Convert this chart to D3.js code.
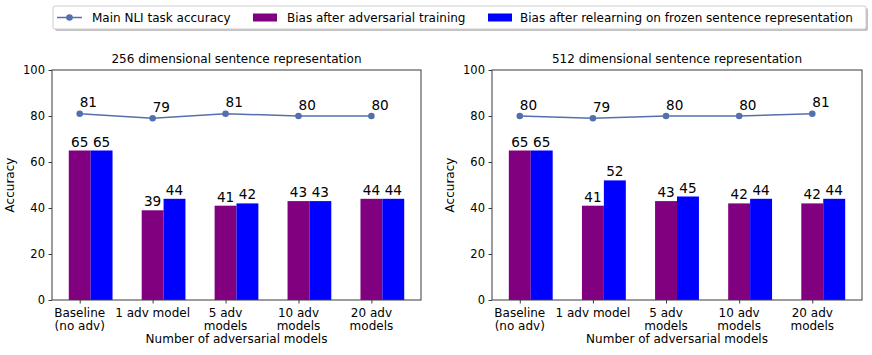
<!DOCTYPE html>
<html>
<head>
<meta charset="utf-8">
<script src="https://cdn.jsdelivr.net/npm/d3@7"></script>
<style>
  body { margin: 0; background: #fff; }
  text { font-family: "DejaVu Sans", sans-serif; fill: #000; }
</style>
</head>
<body>
<div id="chart"></div>
<script>
const categories = [['Baseline', '(no adv)'], ['1 adv model'], ['5 adv', 'models'], ['10 adv', 'models'], ['20 adv', 'models']]
const yTicks = [0, 20, 40, 60, 80, 100]

const titles = ['256 dimensional sentence representation', '512 dimensional sentence representation']
const accuracy256 = [81, 79, 81, 80, 80]
const adversarial256 = [65, 39, 41, 43, 44]
const relearned256 = [65, 44, 42, 43, 44]
const accuracy512 = [80, 79, 80, 80, 81]
const adversarial512 = [65, 41, 43, 42, 42]
const relearned512 = [65, 52, 45, 44, 44]

const legendLabels = ['Main NLI task accuracy', 'Bias after adversarial training', 'Bias after relearning on frozen sentence representation']

const colors = { line: '#5470ac', adv: '#800080', rel: '#0000ff', axis: '#3a3a3a' }

const W = 872, H = 355
const fs = 12, fsTick = 11.5, fsVal = 13.6
const svg = d3.select('#chart').append('svg').attr('width', W).attr('height', H)

const panels = [
    { x0: 52, x1: 421, title: titles[0], acc: accuracy256, adv: adversarial256, rel: relearned256 },
    { x0: 492, x1: 862, title: titles[1], acc: accuracy512, adv: adversarial512, rel: relearned512 }
]
const yTop = 70, yBottom = 300
const barW = 0.3

panels.forEach(p => {
    const x = d3.scaleLinear().domain([-0.38, 4.68]).range([p.x0, p.x1])
    const y = d3.scaleLinear().domain([0, 100]).range([yBottom, yTop])
    const g = svg.append('g')

    // bars
    g.selectAll('rect.adv').data(p.adv).enter().append('rect')
        .attr('x', (d, i) => x(i - barW / 2))
        .attr('y', d => y(d))
        .attr('width', x(barW) - x(0))
        .attr('height', d => y(0) - y(d))
        .attr('fill', colors.adv)
    g.selectAll('rect.rel').data(p.rel).enter().append('rect')
        .attr('x', (d, i) => x(i + barW / 2))
        .attr('y', d => y(d))
        .attr('width', x(barW) - x(0))
        .attr('height', d => y(0) - y(d))
        .attr('fill', colors.rel)

    // bar labels
    g.selectAll('text.advl').data(p.adv).enter().append('text')
        .attr('x', (d, i) => x(i))
        .attr('y', d => y(d) - 4)
        .attr('text-anchor', 'middle')
        .attr('font-size', fsVal)
        .text(d => d)
    g.selectAll('text.rell').data(p.rel).enter().append('text')
        .attr('x', (d, i) => x(i + barW))
        .attr('y', d => y(d) - 4)
        .attr('text-anchor', 'middle')
        .attr('font-size', fsVal)
        .text(d => d)

    // accuracy line
    g.append('path')
        .attr('d', d3.line().x((d, i) => x(i)).y(d => y(d))(p.acc))
        .attr('fill', 'none')
        .attr('stroke', colors.line)
        .attr('stroke-width', 1.5)
    g.selectAll('circle').data(p.acc).enter().append('circle')
        .attr('cx', (d, i) => x(i))
        .attr('cy', d => y(d))
        .attr('r', 3.3)
        .attr('fill', colors.line)
    g.selectAll('text.accl').data(p.acc).enter().append('text')
        .attr('x', (d, i) => x(i))
        .attr('y', d => y(d) - 6.5)
        .attr('font-size', fsVal)
        .text(d => d)

    // frame
    g.append('rect')
        .attr('x', p.x0).attr('y', yTop)
        .attr('width', p.x1 - p.x0).attr('height', yBottom - yTop)
        .attr('fill', 'none').attr('stroke', colors.axis).attr('stroke-width', 1)

    // y axis
    const yAxis = g.append('g').attr('transform', `translate(${p.x0},0)`)
        .call(d3.axisLeft(y).tickValues(yTicks).tickSize(3.5).tickPadding(3.5))
    yAxis.select('.domain').remove()
    yAxis.selectAll('line').attr('stroke', colors.axis)
    yAxis.selectAll('text').attr('font-size', fsTick).attr('font-family', 'DejaVu Sans').attr('fill', '#000')

    // x axis
    const xAxis = g.append('g').attr('transform', `translate(0,${yBottom})`)
        .call(d3.axisBottom(x).tickValues(d3.range(categories.length)).tickSize(3.5).tickFormat(''))
    xAxis.select('.domain').remove()
    xAxis.selectAll('line').attr('stroke', colors.axis)
    categories.forEach((c, i) => {
        const t = g.append('text')
            .attr('x', x(i)).attr('y', 317)
            .attr('text-anchor', 'middle').attr('font-size', fs)
        c.forEach((line, j) => {
            t.append('tspan').attr('x', x(i)).attr('dy', j === 0 ? 0 : 12.5).text(line)
        })
    })

    g.append('text')
        .attr('x', (p.x0 + p.x1) / 2).attr('y', 343)
        .attr('text-anchor', 'middle').attr('font-size', fs)
        .text('Number of adversarial models')

    g.append('text')
        .attr('transform', `translate(${p.x0 - 38},${(yTop + yBottom) / 2}) rotate(-90)`)
        .attr('text-anchor', 'middle').attr('font-size', fs)
        .text('Accuracy')

    g.append('text')
        .attr('x', (p.x0 + p.x1) / 2).attr('y', 63)
        .attr('text-anchor', 'middle').attr('font-size', fs)
        .text(p.title)
})

// legend
const lg = svg.append('g')
lg.append('rect').attr('x', 55).attr('y', 8).attr('width', 813).attr('height', 23)
    .attr('rx', 2).attr('fill', '#999').attr('opacity', 0.6)
lg.append('rect').attr('x', 53).attr('y', 6).attr('width', 813).attr('height', 23)
    .attr('rx', 2).attr('fill', '#fff').attr('stroke', '#ccc')
const ly = 17.5
lg.append('line').attr('x1', 57).attr('x2', 82).attr('y1', ly).attr('y2', ly)
    .attr('stroke', colors.line).attr('stroke-width', 1.5)
lg.append('circle').attr('cx', 69.5).attr('cy', ly).attr('r', 3.3).attr('fill', colors.line)
lg.append('text').attr('x', 92).attr('y', ly + 4.3).attr('font-size', fs).text(legendLabels[0])
lg.append('rect').attr('x', 253).attr('y', ly - 4).attr('width', 24).attr('height', 8).attr('fill', colors.adv)
lg.append('text').attr('x', 287).attr('y', ly + 4.3).attr('font-size', fs).text(legendLabels[1])
lg.append('rect').attr('x', 488).attr('y', ly - 4).attr('width', 24).attr('height', 8).attr('fill', colors.rel)
lg.append('text').attr('x', 520).attr('y', ly + 4.3).attr('font-size', fs).text(legendLabels[2])
</script>
</body>
</html>
